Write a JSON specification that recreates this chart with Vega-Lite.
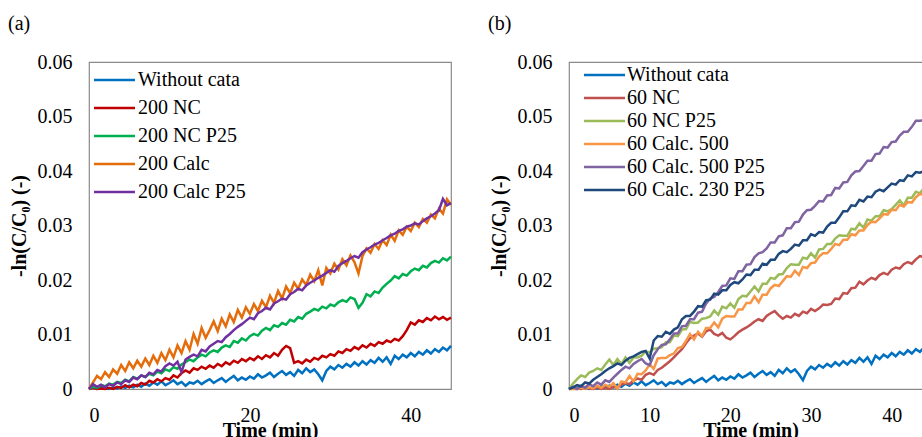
{
  "$schema": "https://vega.github.io/schema/vega-lite/v6.json",
  "padding": {"left": 7, "top": 13, "right": 0, "bottom": -4},
  "spacing": 30,
  "config": {
    "font": "Liberation Serif",
    "view": {"stroke": "#8a8a8a", "strokeWidth": 1.2},
    "axis": {"grid": false, "ticks": false, "tickSize": 0, "domain": false, "labelFont": "Liberation Serif", "labelFontSize": 20, "labelColor": "#000", "titleFont": "Liberation Serif", "titleFontSize": 20, "titleFontWeight": "bold", "titleColor": "#000"},
    "axisX": {"labelPadding": 16, "titlePadding": -5},
    "axisY": {"labelPadding": 17, "titlePadding": 8},
    "legend": {"title": null, "orient": "none", "symbolType": "stroke", "symbolSize": 1681, "symbolStrokeWidth": 2.5, "labelFont": "Liberation Serif", "labelFontSize": 20, "labelColor": "#000", "labelLimit": 400, "padding": 0, "symbolOffset": 0, "labelOffset": 1.5},
    "title": {"font": "Liberation Serif", "fontSize": 20, "fontWeight": "normal", "anchor": "start", "color": "#000", "offset": 18, "dx": -1},
    "line": {"strokeWidth": 2.5}
  },
  "datasets": {
    "a": [
      {"t":0,"w":0,"nc":0,"ncp":0,"c":0,"cp":0},
      {"t":0.5,"w":0.0003,"nc":0.0002,"ncp":0.0004,"c":0.0012,"cp":0.0009},
      {"t":1,"w":0.0001,"nc":0,"ncp":0.0002,"c":0.0024,"cp":0.0004},
      {"t":1.5,"w":0.0004,"nc":0.0001,"ncp":0.0007,"c":0.0018,"cp":0.0008},
      {"t":2,"w":0.0002,"nc":0,"ncp":0.0005,"c":0.0031,"cp":0.0003},
      {"t":2.5,"w":0,"nc":0.0002,"ncp":0.001,"c":0.0022,"cp":0.0009},
      {"t":3,"w":0.0003,"nc":0,"ncp":0.0008,"c":0.0036,"cp":0.0006},
      {"t":3.5,"w":0.0001,"nc":0.0004,"ncp":0.0013,"c":0.0028,"cp":0.0012},
      {"t":4,"w":0.0005,"nc":0.0002,"ncp":0.0011,"c":0.0044,"cp":0.0009},
      {"t":4.5,"w":0.0002,"nc":0.0007,"ncp":0.0017,"c":0.0033,"cp":0.0016},
      {"t":5,"w":0.0006,"nc":0.0003,"ncp":0.0014,"c":0.0049,"cp":0.0013},
      {"t":5.5,"w":0.0003,"nc":0.0008,"ncp":0.0022,"c":0.0038,"cp":0.0021},
      {"t":6,"w":0.0008,"nc":0.0005,"ncp":0.0019,"c":0.0052,"cp":0.0018},
      {"t":6.5,"w":0.0004,"nc":0.0011,"ncp":0.0025,"c":0.0041,"cp":0.0025},
      {"t":7,"w":0.001,"nc":0.0008,"ncp":0.0022,"c":0.0056,"cp":0.0022},
      {"t":7.5,"w":0.0006,"nc":0.0015,"ncp":0.0028,"c":0.0044,"cp":0.003},
      {"t":8,"w":0.0012,"nc":0.0012,"ncp":0.0025,"c":0.0061,"cp":0.0027},
      {"t":8.5,"w":0.0008,"nc":0.0018,"ncp":0.0032,"c":0.0048,"cp":0.0035},
      {"t":9,"w":0.0014,"nc":0.0014,"ncp":0.0029,"c":0.0066,"cp":0.0032},
      {"t":9.5,"w":0.0007,"nc":0.002,"ncp":0.0036,"c":0.0053,"cp":0.0042},
      {"t":10,"w":0.0011,"nc":0.0017,"ncp":0.0033,"c":0.0072,"cp":0.0047},
      {"t":10.5,"w":0.0016,"nc":0.0025,"ncp":0.004,"c":0.0058,"cp":0.0043},
      {"t":11,"w":0.0009,"nc":0.0021,"ncp":0.0037,"c":0.008,"cp":0.005},
      {"t":11.5,"w":0.0013,"nc":0.0029,"ncp":0.0045,"c":0.0066,"cp":0.0031},
      {"t":12,"w":0.0006,"nc":0.0034,"ncp":0.0049,"c":0.0088,"cp":0.0054},
      {"t":12.5,"w":0.0012,"nc":0.003,"ncp":0.0054,"c":0.0072,"cp":0.0059},
      {"t":13,"w":0.001,"nc":0.0038,"ncp":0.0051,"c":0.0101,"cp":0.0063},
      {"t":13.5,"w":0.0015,"nc":0.0035,"ncp":0.0058,"c":0.0083,"cp":0.006},
      {"t":14,"w":0.0009,"nc":0.0041,"ncp":0.0063,"c":0.0112,"cp":0.0072},
      {"t":14.5,"w":0.0014,"nc":0.0037,"ncp":0.006,"c":0.0094,"cp":0.0069},
      {"t":15,"w":0.0018,"nc":0.0043,"ncp":0.0067,"c":0.0108,"cp":0.0078},
      {"t":15.5,"w":0.0011,"nc":0.0039,"ncp":0.0071,"c":0.0124,"cp":0.0083},
      {"t":16,"w":0.0016,"nc":0.0046,"ncp":0.0068,"c":0.0106,"cp":0.0088},
      {"t":16.5,"w":0.002,"nc":0.0042,"ncp":0.0076,"c":0.0129,"cp":0.0086},
      {"t":17,"w":0.0013,"nc":0.0049,"ncp":0.008,"c":0.0115,"cp":0.0095},
      {"t":17.5,"w":0.0019,"nc":0.0045,"ncp":0.0077,"c":0.0137,"cp":0.0101},
      {"t":18,"w":0.0024,"nc":0.0052,"ncp":0.0088,"c":0.0123,"cp":0.0108},
      {"t":18.5,"w":0.0016,"nc":0.0048,"ncp":0.0085,"c":0.0145,"cp":0.0114},
      {"t":19,"w":0.0021,"nc":0.0055,"ncp":0.0093,"c":0.0131,"cp":0.0119},
      {"t":19.5,"w":0.0017,"nc":0.0051,"ncp":0.0089,"c":0.015,"cp":0.0125},
      {"t":20,"w":0.0023,"nc":0.0057,"ncp":0.0097,"c":0.0138,"cp":0.0131},
      {"t":20.5,"w":0.0019,"nc":0.0053,"ncp":0.0101,"c":0.0156,"cp":0.0128},
      {"t":21,"w":0.0027,"nc":0.006,"ncp":0.0098,"c":0.0143,"cp":0.0139},
      {"t":21.5,"w":0.0021,"nc":0.0055,"ncp":0.0107,"c":0.0162,"cp":0.0143},
      {"t":22,"w":0.0025,"nc":0.0062,"ncp":0.0112,"c":0.015,"cp":0.0149},
      {"t":22.5,"w":0.003,"nc":0.0058,"ncp":0.0108,"c":0.0171,"cp":0.0146},
      {"t":23,"w":0.0022,"nc":0.0066,"ncp":0.0117,"c":0.0158,"cp":0.0157},
      {"t":23.5,"w":0.0028,"nc":0.0061,"ncp":0.0114,"c":0.018,"cp":0.0161},
      {"t":24,"w":0.0033,"nc":0.0072,"ncp":0.0121,"c":0.0166,"cp":0.0166},
      {"t":24.5,"w":0.0026,"nc":0.0079,"ncp":0.0118,"c":0.0188,"cp":0.0164},
      {"t":25,"w":0.0031,"nc":0.0075,"ncp":0.0127,"c":0.0176,"cp":0.0174},
      {"t":25.5,"w":0.0024,"nc":0.0048,"ncp":0.0124,"c":0.0195,"cp":0.0178},
      {"t":26,"w":0.0035,"nc":0.0051,"ncp":0.0132,"c":0.0184,"cp":0.0184},
      {"t":26.5,"w":0.0029,"nc":0.0047,"ncp":0.0129,"c":0.0201,"cp":0.0181},
      {"t":27,"w":0.0038,"nc":0.0054,"ncp":0.0138,"c":0.0191,"cp":0.019},
      {"t":27.5,"w":0.0031,"nc":0.005,"ncp":0.0142,"c":0.021,"cp":0.0195},
      {"t":28,"w":0.0036,"nc":0.0057,"ncp":0.0147,"c":0.0198,"cp":0.0199},
      {"t":28.5,"w":0.0027,"nc":0.0054,"ncp":0.0144,"c":0.0218,"cp":0.0204},
      {"t":29,"w":0.0016,"nc":0.0061,"ncp":0.0151,"c":0.019,"cp":0.0208},
      {"t":29.5,"w":0.0033,"nc":0.0058,"ncp":0.0148,"c":0.0222,"cp":0.0213},
      {"t":30,"w":0.0041,"nc":0.0064,"ncp":0.0155,"c":0.0212,"cp":0.0218},
      {"t":30.5,"w":0.0036,"nc":0.0061,"ncp":0.0152,"c":0.023,"cp":0.0215},
      {"t":31,"w":0.0044,"nc":0.0069,"ncp":0.0159,"c":0.0219,"cp":0.0226},
      {"t":31.5,"w":0.0039,"nc":0.0066,"ncp":0.0163,"c":0.0238,"cp":0.0231},
      {"t":32,"w":0.0046,"nc":0.0073,"ncp":0.016,"c":0.0227,"cp":0.0235},
      {"t":32.5,"w":0.0041,"nc":0.007,"ncp":0.0168,"c":0.0245,"cp":0.024},
      {"t":33,"w":0.0049,"nc":0.0077,"ncp":0.0165,"c":0.0233,"cp":0.0244},
      {"t":33.5,"w":0.0043,"nc":0.0073,"ncp":0.0149,"c":0.0212,"cp":0.0241},
      {"t":34,"w":0.0051,"nc":0.008,"ncp":0.0158,"c":0.0244,"cp":0.0251},
      {"t":34.5,"w":0.0045,"nc":0.0076,"ncp":0.0174,"c":0.0258,"cp":0.0256},
      {"t":35,"w":0.0053,"nc":0.0083,"ncp":0.017,"c":0.025,"cp":0.026},
      {"t":35.5,"w":0.0048,"nc":0.0079,"ncp":0.0179,"c":0.0266,"cp":0.0265},
      {"t":36,"w":0.0057,"nc":0.0086,"ncp":0.0176,"c":0.0257,"cp":0.0268},
      {"t":36.5,"w":0.005,"nc":0.0083,"ncp":0.0186,"c":0.0273,"cp":0.0273},
      {"t":37,"w":0.0058,"nc":0.0089,"ncp":0.0193,"c":0.0264,"cp":0.0277},
      {"t":37.5,"w":0.0046,"nc":0.0086,"ncp":0.0199,"c":0.0283,"cp":0.0282},
      {"t":38,"w":0.0061,"nc":0.0092,"ncp":0.0207,"c":0.0272,"cp":0.0285},
      {"t":38.5,"w":0.0055,"nc":0.0089,"ncp":0.0203,"c":0.0291,"cp":0.029},
      {"t":39,"w":0.0063,"nc":0.0097,"ncp":0.0211,"c":0.0283,"cp":0.0293},
      {"t":39.5,"w":0.0058,"nc":0.0108,"ncp":0.0208,"c":0.0298,"cp":0.0298},
      {"t":40,"w":0.0066,"nc":0.0122,"ncp":0.0216,"c":0.029,"cp":0.03},
      {"t":40.5,"w":0.006,"nc":0.0118,"ncp":0.0221,"c":0.0305,"cp":0.0304},
      {"t":41,"w":0.0068,"nc":0.0126,"ncp":0.0218,"c":0.0297,"cp":0.0302},
      {"t":41.5,"w":0.0063,"nc":0.0123,"ncp":0.0226,"c":0.0312,"cp":0.0308},
      {"t":42,"w":0.0071,"nc":0.013,"ncp":0.0223,"c":0.0305,"cp":0.0313},
      {"t":42.5,"w":0.0065,"nc":0.0126,"ncp":0.0231,"c":0.032,"cp":0.0317},
      {"t":43,"w":0.0073,"nc":0.0133,"ncp":0.0235,"c":0.0313,"cp":0.0322},
      {"t":43.5,"w":0.0068,"nc":0.0128,"ncp":0.0232,"c":0.0331,"cp":0.0328},
      {"t":44,"w":0.0076,"nc":0.0132,"ncp":0.024,"c":0.0322,"cp":0.0349},
      {"t":44.5,"w":0.0071,"nc":0.0127,"ncp":0.0236,"c":0.0348,"cp":0.0337},
      {"t":45,"w":0.0079,"nc":0.0131,"ncp":0.0243,"c":0.0338,"cp":0.0341}
    ],
    "b": [
      {"t":0,"w":0,"nc":0,"ncp":0,"c5":0,"c5p":0,"c2p":0},
      {"t":0.5,"w":0.0003,"nc":0.0003,"ncp":0.001,"c5":0,"c5p":0.0004,"c2p":0.0003},
      {"t":1,"w":0.0001,"nc":0.0001,"ncp":0.0018,"c5":0,"c5p":0,"c2p":0.0007},
      {"t":1.5,"w":0.0004,"nc":0,"ncp":0.0025,"c5":0.0002,"c5p":0.0006,"c2p":0.0005},
      {"t":2,"w":0.0002,"nc":0.0004,"ncp":0.0022,"c5":0,"c5p":0.0002,"c2p":0.0012},
      {"t":2.5,"w":0,"nc":0.0001,"ncp":0.003,"c5":0.0003,"c5p":0.0009,"c2p":0.001},
      {"t":3,"w":0.0003,"nc":0,"ncp":0.0033,"c5":0.0001,"c5p":0.0005,"c2p":0.0017},
      {"t":3.5,"w":0.0001,"nc":0.0003,"ncp":0.0038,"c5":0.0006,"c5p":0.0012,"c2p":0.0022},
      {"t":4,"w":0.0005,"nc":0,"ncp":0.0035,"c5":0.0002,"c5p":0.0008,"c2p":0.0027},
      {"t":4.5,"w":0.0002,"nc":0.0002,"ncp":0.0045,"c5":0.0008,"c5p":0.0016,"c2p":0.0033},
      {"t":5,"w":0.0006,"nc":0,"ncp":0.0054,"c5":0.0004,"c5p":0.0013,"c2p":0.0038},
      {"t":5.5,"w":0.0003,"nc":0.0004,"ncp":0.0044,"c5":0.0011,"c5p":0.0021,"c2p":0.0042},
      {"t":6,"w":0.0008,"nc":0.0002,"ncp":0.0055,"c5":0.0001,"c5p":0.0028,"c2p":0.0047},
      {"t":6.5,"w":0.0004,"nc":0.0008,"ncp":0.0046,"c5":0.0014,"c5p":0.0035,"c2p":0.0044},
      {"t":7,"w":0.001,"nc":0.0011,"ncp":0.0058,"c5":0.0012,"c5p":0.0041,"c2p":0.0052},
      {"t":7.5,"w":0.0006,"nc":0.0009,"ncp":0.0048,"c5":0.0024,"c5p":0.0038,"c2p":0.0057},
      {"t":8,"w":0.0012,"nc":0.0016,"ncp":0.0058,"c5":0.0014,"c5p":0.0046,"c2p":0.006},
      {"t":8.5,"w":0.0008,"nc":0.0019,"ncp":0.0058,"c5":0.0028,"c5p":0.0051,"c2p":0.0064},
      {"t":9,"w":0.0014,"nc":0.0017,"ncp":0.0061,"c5":0.0027,"c5p":0.0055,"c2p":0.0068},
      {"t":9.5,"w":0.0007,"nc":0.0026,"ncp":0.0069,"c5":0.0034,"c5p":0.0047,"c2p":0.007},
      {"t":10,"w":0.0011,"nc":0.0029,"ncp":0.0067,"c5":0.0045,"c5p":0.0044,"c2p":0.0056},
      {"t":10.5,"w":0.0016,"nc":0.0026,"ncp":0.0074,"c5":0.0037,"c5p":0.0062,"c2p":0.0089},
      {"t":11,"w":0.0009,"nc":0.0035,"ncp":0.0075,"c5":0.0056,"c5p":0.0073,"c2p":0.0097},
      {"t":11.5,"w":0.0013,"nc":0.0039,"ncp":0.0077,"c5":0.0057,"c5p":0.0081,"c2p":0.0096},
      {"t":12,"w":0.0006,"nc":0.0045,"ncp":0.0086,"c5":0.0057,"c5p":0.0082,"c2p":0.0105},
      {"t":12.5,"w":0.0012,"nc":0.0051,"ncp":0.0086,"c5":0.0062,"c5p":0.0091,"c2p":0.0101},
      {"t":13,"w":0.001,"nc":0.0058,"ncp":0.0098,"c5":0.0065,"c5p":0.0102,"c2p":0.0109},
      {"t":13.5,"w":0.0015,"nc":0.0066,"ncp":0.0097,"c5":0.0075,"c5p":0.0102,"c2p":0.0113},
      {"t":14,"w":0.0009,"nc":0.0073,"ncp":0.0109,"c5":0.0077,"c5p":0.0115,"c2p":0.0128},
      {"t":14.5,"w":0.0014,"nc":0.0084,"ncp":0.011,"c5":0.0088,"c5p":0.0116,"c2p":0.0134},
      {"t":15,"w":0.0018,"nc":0.0093,"ncp":0.0123,"c5":0.0101,"c5p":0.0128,"c2p":0.0134},
      {"t":15.5,"w":0.0011,"nc":0.0098,"ncp":0.0121,"c5":0.0091,"c5p":0.0128,"c2p":0.0142},
      {"t":16,"w":0.0016,"nc":0.0102,"ncp":0.0122,"c5":0.0105,"c5p":0.014,"c2p":0.0152},
      {"t":16.5,"w":0.002,"nc":0.0096,"ncp":0.0129,"c5":0.0097,"c5p":0.0142,"c2p":0.0151},
      {"t":17,"w":0.0013,"nc":0.0106,"ncp":0.013,"c5":0.0112,"c5p":0.0157,"c2p":0.0163},
      {"t":17.5,"w":0.0019,"nc":0.0109,"ncp":0.0133,"c5":0.0112,"c5p":0.0166,"c2p":0.0164},
      {"t":18,"w":0.0024,"nc":0.0101,"ncp":0.0144,"c5":0.0122,"c5p":0.0169,"c2p":0.0175},
      {"t":18.5,"w":0.0016,"nc":0.0098,"ncp":0.0136,"c5":0.0113,"c5p":0.0178,"c2p":0.0173},
      {"t":19,"w":0.0021,"nc":0.0103,"ncp":0.0151,"c5":0.0129,"c5p":0.0189,"c2p":0.0181},
      {"t":19.5,"w":0.0017,"nc":0.0094,"ncp":0.0148,"c5":0.0134,"c5p":0.019,"c2p":0.0181},
      {"t":20,"w":0.0023,"nc":0.0091,"ncp":0.0157,"c5":0.0133,"c5p":0.0203,"c2p":0.0191},
      {"t":20.5,"w":0.0019,"nc":0.0097,"ncp":0.0149,"c5":0.0133,"c5p":0.0202,"c2p":0.0196},
      {"t":21,"w":0.0027,"nc":0.0104,"ncp":0.0165,"c5":0.0146,"c5p":0.0216,"c2p":0.0194},
      {"t":21.5,"w":0.0021,"nc":0.0109,"ncp":0.0171,"c5":0.0146,"c5p":0.0216,"c2p":0.0201},
      {"t":22,"w":0.0025,"nc":0.0113,"ncp":0.017,"c5":0.0158,"c5p":0.0228,"c2p":0.021},
      {"t":22.5,"w":0.003,"nc":0.0118,"ncp":0.0179,"c5":0.0158,"c5p":0.0229,"c2p":0.0209},
      {"t":23,"w":0.0022,"nc":0.0124,"ncp":0.0188,"c5":0.017,"c5p":0.0242,"c2p":0.0219},
      {"t":23.5,"w":0.0028,"nc":0.0128,"ncp":0.0179,"c5":0.0159,"c5p":0.0249,"c2p":0.0219},
      {"t":24,"w":0.0033,"nc":0.0125,"ncp":0.0193,"c5":0.0173,"c5p":0.0251,"c2p":0.023},
      {"t":24.5,"w":0.0026,"nc":0.0134,"ncp":0.0193,"c5":0.0173,"c5p":0.0258,"c2p":0.0228},
      {"t":25,"w":0.0031,"nc":0.0139,"ncp":0.0204,"c5":0.0185,"c5p":0.0269,"c2p":0.0237},
      {"t":25.5,"w":0.0024,"nc":0.0143,"ncp":0.0202,"c5":0.0191,"c5p":0.0269,"c2p":0.0237},
      {"t":26,"w":0.0035,"nc":0.0135,"ncp":0.021,"c5":0.0189,"c5p":0.028,"c2p":0.0248},
      {"t":26.5,"w":0.0029,"nc":0.0129,"ncp":0.0211,"c5":0.0198,"c5p":0.0282,"c2p":0.0253},
      {"t":27,"w":0.0038,"nc":0.0134,"ncp":0.0222,"c5":0.0207,"c5p":0.0295,"c2p":0.0251},
      {"t":27.5,"w":0.0031,"nc":0.0131,"ncp":0.0229,"c5":0.0206,"c5p":0.0295,"c2p":0.0257},
      {"t":28,"w":0.0036,"nc":0.0138,"ncp":0.0228,"c5":0.0217,"c5p":0.0306,"c2p":0.0265},
      {"t":28.5,"w":0.0027,"nc":0.0134,"ncp":0.0228,"c5":0.0209,"c5p":0.0307,"c2p":0.0263},
      {"t":29,"w":0.0016,"nc":0.0142,"ncp":0.0241,"c5":0.0224,"c5p":0.032,"c2p":0.0273},
      {"t":29.5,"w":0.0033,"nc":0.0139,"ncp":0.0239,"c5":0.0222,"c5p":0.0328,"c2p":0.0273},
      {"t":30,"w":0.0041,"nc":0.0147,"ncp":0.0249,"c5":0.0231,"c5p":0.0329,"c2p":0.0284},
      {"t":30.5,"w":0.0036,"nc":0.0143,"ncp":0.0241,"c5":0.0232,"c5p":0.0336,"c2p":0.0281},
      {"t":31,"w":0.0044,"nc":0.0148,"ncp":0.0256,"c5":0.0243,"c5p":0.0345,"c2p":0.0288},
      {"t":31.5,"w":0.0039,"nc":0.0155,"ncp":0.0257,"c5":0.0249,"c5p":0.0344,"c2p":0.0287},
      {"t":32,"w":0.0046,"nc":0.0154,"ncp":0.0266,"c5":0.0249,"c5p":0.0355,"c2p":0.0298},
      {"t":32.5,"w":0.0041,"nc":0.0156,"ncp":0.0266,"c5":0.0257,"c5p":0.0356,"c2p":0.0305},
      {"t":33,"w":0.0049,"nc":0.0166,"ncp":0.0276,"c5":0.0266,"c5p":0.0369,"c2p":0.0305},
      {"t":33.5,"w":0.0043,"nc":0.0165,"ncp":0.0282,"c5":0.0264,"c5p":0.0368,"c2p":0.0315},
      {"t":34,"w":0.0051,"nc":0.0176,"ncp":0.0281,"c5":0.0274,"c5p":0.0379,"c2p":0.0326},
      {"t":34.5,"w":0.0045,"nc":0.0175,"ncp":0.0281,"c5":0.0274,"c5p":0.038,"c2p":0.0326},
      {"t":35,"w":0.0053,"nc":0.0185,"ncp":0.0294,"c5":0.0284,"c5p":0.0392,"c2p":0.0337},
      {"t":35.5,"w":0.0048,"nc":0.0186,"ncp":0.0293,"c5":0.0282,"c5p":0.0399,"c2p":0.0336},
      {"t":36,"w":0.0057,"nc":0.0197,"ncp":0.0304,"c5":0.0291,"c5p":0.04,"c2p":0.0347},
      {"t":36.5,"w":0.005,"nc":0.0192,"ncp":0.0296,"c5":0.0291,"c5p":0.0409,"c2p":0.0344},
      {"t":37,"w":0.0058,"nc":0.0199,"ncp":0.0311,"c5":0.0301,"c5p":0.0419,"c2p":0.0353},
      {"t":37.5,"w":0.0046,"nc":0.0204,"ncp":0.0309,"c5":0.0307,"c5p":0.0419,"c2p":0.0352},
      {"t":38,"w":0.0061,"nc":0.0201,"ncp":0.0317,"c5":0.0306,"c5p":0.0431,"c2p":0.0362},
      {"t":38.5,"w":0.0055,"nc":0.0209,"ncp":0.0317,"c5":0.0313,"c5p":0.0432,"c2p":0.0366},
      {"t":39,"w":0.0063,"nc":0.0213,"ncp":0.0328,"c5":0.0321,"c5p":0.0444,"c2p":0.0363},
      {"t":39.5,"w":0.0058,"nc":0.021,"ncp":0.0326,"c5":0.032,"c5p":0.0443,"c2p":0.037},
      {"t":40,"w":0.0066,"nc":0.0219,"ncp":0.033,"c5":0.0329,"c5p":0.0453,"c2p":0.0377},
      {"t":40.5,"w":0.006,"nc":0.0223,"ncp":0.0338,"c5":0.0328,"c5p":0.0454,"c2p":0.0375},
      {"t":41,"w":0.0068,"nc":0.0221,"ncp":0.0346,"c5":0.0338,"c5p":0.0465,"c2p":0.0383},
      {"t":41.5,"w":0.0063,"nc":0.0229,"ncp":0.0337,"c5":0.0335,"c5p":0.0472,"c2p":0.0382},
      {"t":42,"w":0.0071,"nc":0.0233,"ncp":0.0351,"c5":0.0343,"c5p":0.0472,"c2p":0.0392},
      {"t":42.5,"w":0.0065,"nc":0.023,"ncp":0.0351,"c5":0.0342,"c5p":0.0481,"c2p":0.039},
      {"t":43,"w":0.0073,"nc":0.0238,"ncp":0.0362,"c5":0.0352,"c5p":0.0492,"c2p":0.0398},
      {"t":43.5,"w":0.0068,"nc":0.0244,"ncp":0.0359,"c5":0.0358,"c5p":0.0492,"c2p":0.0397},
      {"t":44,"w":0.0076,"nc":0.0242,"ncp":0.0369,"c5":0.0357,"c5p":0.0493,"c2p":0.04}
    ]
  },
  "hconcat": [
    {
      "title": "(a)",
      "width": 362,
      "height": 327,
      "data": {"name": "a"},
      "transform": [{"fold": ["w", "nc", "ncp", "c", "cp"], "as": ["s", "v"]}],
      "mark": {"type": "line", "strokeWidth": 2.5},
      "encoding": {
        "x": {"field": "t", "type": "quantitative", "scale": {"domain": [0, 45], "nice": false}, "axis": {"values": [0, 20, 40], "title": "Time (min)"}},
        "y": {"field": "v", "type": "quantitative", "scale": {"domain": [0, 0.06], "nice": false}, "axis": {"values": [0, 0.01, 0.02, 0.03, 0.04, 0.05, 0.06], "format": ".2~f", "title": "-ln(C/C₀) (-)"}},
        "color": {
          "field": "s", "type": "nominal", "sort": null,
          "scale": {"domain": ["w", "nc", "ncp", "c", "cp"], "range": ["#0070C0", "#C00000", "#00B050", "#E46C0A", "#7030A0"]},
          "legend": {"orient": "none", "legendX": 3.5, "legendY": 5.25, "clipHeight": 25.5, "rowPadding": 2, "labelExpr": "{'w':'Without cata','nc':'200 NC','ncp':'200 NC P25','c':'200 Calc','cp':'200 Calc P25'}[datum.value]"}
        }
      }
    },
    {
      "title": "(b)",
      "width": 363,
      "height": 327,
      "data": {"name": "b"},
      "transform": [{"fold": ["w", "nc", "ncp", "c5", "c5p", "c2p"], "as": ["s", "v"]}],
      "mark": {"type": "line", "strokeWidth": 2.5},
      "encoding": {
        "x": {"field": "t", "type": "quantitative", "scale": {"domain": [0, 45], "nice": false}, "axis": {"values": [0, 10, 20, 30, 40], "title": "Time (min)"}},
        "y": {"field": "v", "type": "quantitative", "scale": {"domain": [0, 0.06], "nice": false}, "axis": {"values": [0, 0.01, 0.02, 0.03, 0.04, 0.05, 0.06], "format": ".2~f", "title": "-ln(C/C₀) (-)"}},
        "color": {
          "field": "s", "type": "nominal", "sort": null,
          "scale": {"domain": ["w", "nc", "ncp", "c5", "c5p", "c2p"], "range": ["#0070C0", "#C0504D", "#9BBB59", "#F79646", "#8064A2", "#1F497D"]},
          "legend": {"orient": "none", "legendX": 13.5, "legendY": 2.5, "clipHeight": 21, "rowPadding": 2, "labelOffset": 0.5, "labelExpr": "{'w':'Without cata','nc':'60 NC','ncp':'60 NC P25','c5':'60 Calc. 500','c5p':'60 Calc. 500 P25','c2p':'60 Calc. 230 P25'}[datum.value]"}
        }
      }
    }
  ],
  "resolve": {"scale": {"color": "independent"}}
}
